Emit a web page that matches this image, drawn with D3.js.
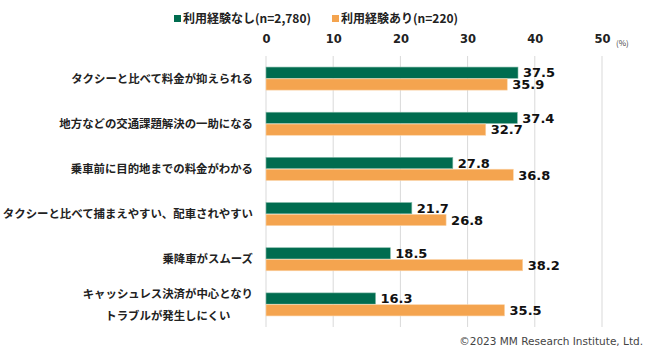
<!DOCTYPE html>
<html>
<head>
<meta charset="utf-8">
<script src="https://cdn.jsdelivr.net/npm/d3@7"></script>
<style>
  body { margin: 0; background: #fff; }
  text { font-family: "Noto Sans CJK JP", sans-serif; }
  .num { font-family: "DejaVu Sans", Verdana, sans-serif; }
</style>
</head>
<body>
<svg id="chart" width="665" height="353"></svg>
<script>
'use strict'

const categories = [
  ['タクシーと比べて料金が抑えられる'],
  ['地方などの交通課題解決の一助になる'],
  ['乗車前に目的地までの料金がわかる'],
  ['タクシーと比べて捕まえやすい、配車されやすい'],
  ['乗降車がスムーズ'],
  ['キャッシュレス決済が中心となり', 'トラブルが発生しにくい']
]
const seriesNames = ['利用経験なし(n=2,780)', '利用経験あり(n=220)']
const noUse = [37.5, 37.4, 27.8, 21.7, 18.5, 16.3]
const used = [35.9, 32.7, 36.8, 26.8, 38.2, 35.5]
const ticks = [0, 10, 20, 30, 40, 50]
const colors = ['#006c4f', '#f4a44f']

const svg = d3.select('#chart')
const margin = { top: 56, left: 266, right: 63, bottom: 26 }
const height = 353 - margin.top - margin.bottom

const x = d3.scaleLinear().domain([0, 50]).range([0, 336])
const y = d3.scaleBand().domain(d3.range(categories.length)).range([0, height]).paddingInner(0.49).paddingOuter(0.245)
const sub = d3.scaleBand().domain([0, 1]).range([0, y.bandwidth()]).paddingInner(0.05)

const g = svg.append('g')
  .attr('transform', 'translate(' + margin.left + ',' + margin.top + ')')

// grid
g.selectAll('.grid')
  .data(ticks)
  .enter().append('line')
  .attr('x1', d => x(d)).attr('x2', d => x(d))
  .attr('y1', 0).attr('y2', height)
  .attr('stroke', '#d9d9d9').attr('stroke-width', 1)

// top axis labels
const axis = g.append('g').call(d3.axisTop(x).tickValues(ticks).tickSize(0).tickPadding(10))
axis.select('.domain').remove()
axis.selectAll('text')
  .attr('class', 'num')
  .attr('font-size', 11.5).attr('font-weight', 'bold').attr('fill', '#222')
  .attr('dy', '-0.3em')

g.append('text')
  .attr('x', x(50) + 14).attr('y', -10)
  .attr('font-size', 8).attr('fill', '#444')
  .text('(%)')

// bars
const data = []
categories.forEach((c, i) => {
  data.push({ i: i, s: 0, v: noUse[i] })
  data.push({ i: i, s: 1, v: used[i] })
})

g.selectAll('.bar')
  .data(data)
  .enter().append('rect')
  .attr('class', 'bar')
  .attr('x', 0)
  .attr('y', d => y(d.i) + sub(d.s))
  .attr('width', d => x(d.v))
  .attr('height', sub.bandwidth())
  .attr('fill', d => colors[d.s])
  .attr('stroke', d => d.s ? '#fbd3a6' : '#7fb8a5')
  .attr('stroke-width', 0.6)

g.selectAll('.val')
  .data(data)
  .enter().append('text')
  .attr('class', 'num')
  .attr('x', d => x(d.v) + 5)
  .attr('y', d => y(d.i) + sub(d.s) + sub.bandwidth() / 2)
  .attr('dy', '0.36em')
  .attr('font-size', 13).attr('font-weight', 'bold').attr('fill', '#111')
  .text(d => d.v.toFixed(1))

// category labels (multi-line ones are centred on their block)
const labels = g.selectAll('.cat')
  .data(categories)
  .enter().append('text')
  .attr('text-anchor', d => d.length > 1 ? 'middle' : 'end')
  .attr('font-size', 11.4).attr('font-weight', 'bold').attr('fill', '#222')

labels.each(function (lines, i) {
  const cy = y(i) + y.bandwidth() / 2
  const t = d3.select(this)
  lines.forEach((l, k) => {
    t.append('tspan')
      .attr('y', cy + (k - (lines.length - 1) / 2) * 22)
      .attr('dy', '0.36em')
      .text(l)
  })
  let cx = -13
  if (lines.length > 1) {
    const w = d3.max(t.selectAll('tspan').nodes(), n => n.getComputedTextLength())
    cx = -13 - w / 2
  }
  t.selectAll('tspan').attr('x', cx)
})

// legend
const legendX = [174, 332]
const legend = svg.selectAll('.legend')
  .data(seriesNames)
  .enter().append('g')
  .attr('transform', (d, i) => 'translate(' + legendX[i] + ',19)')

legend.append('rect')
  .attr('x', 0).attr('y', -4).attr('width', 7).attr('height', 7)
  .attr('fill', (d, i) => colors[i])

legend.append('text')
  .attr('x', 9).attr('dy', '0.36em')
  .attr('font-size', 12).attr('font-weight', 'bold').attr('fill', '#222')
  .text(d => d)

svg.append('text')
  .attr('x', 643).attr('y', 345)
  .attr('text-anchor', 'end')
  .attr('class', 'num')
  .attr('font-size', 10.5).attr('fill', '#444')
  .text('©2023 MM Research Institute, Ltd.')
</script>
</body>
</html>
